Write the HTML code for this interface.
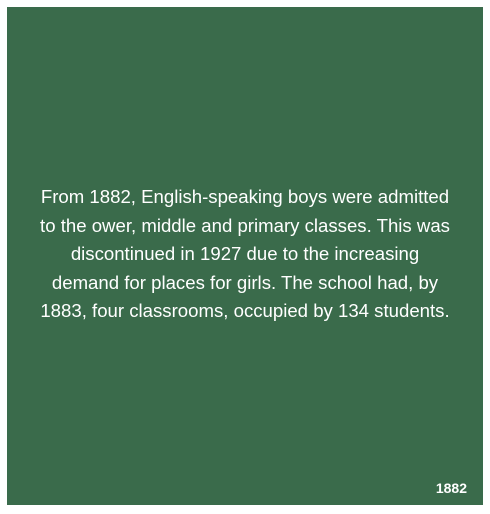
<!DOCTYPE html>
<html><head><meta charset="utf-8"><style>
html,body{margin:0;padding:0;background:#fff;width:490px;height:514px;overflow:hidden}
#card{position:absolute;left:7px;top:7px;width:476px;height:498px;background:#3a6b4b;font-family:"Liberation Sans",sans-serif;color:#fff}
#txt{position:absolute;left:-20px;width:516px;top:176px;text-align:center;font-size:18.6px;line-height:28.5px}
#yr{position:absolute;right:16px;bottom:9px;font-size:14px;font-weight:bold}
</style></head><body>
<div id="card">
<div id="txt">From 1882, English-speaking boys were admitted<br>to the ower, middle and primary classes. This was<br>discontinued in 1927 due to the increasing<br>demand for places for girls. The school had, by<br>1883, four classrooms, occupied by 134 students.</div>
<div id="yr">1882</div>
</div>
</body></html>
